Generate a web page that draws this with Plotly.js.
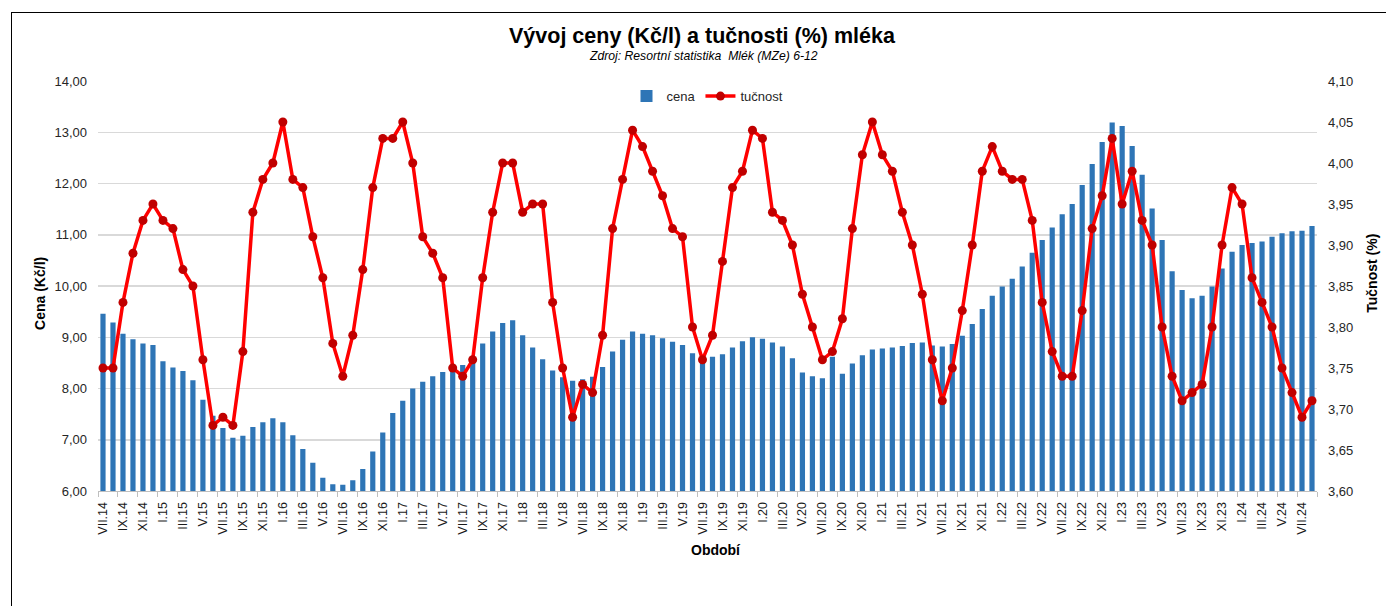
<!DOCTYPE html>
<html>
<head>
<meta charset="utf-8">
<script src="https://cdn.plot.ly/plotly-3.0.1.min.js"></script>
<style>
  html, body { margin: 0; padding: 0; overflow: hidden; background: #fff; }
  #chart { position: absolute; left: 0; top: 0; width: 1386px; height: 606px; }
  #frame { position: absolute; left: 11px; top: 12px; width: 1500px; height: 800px;
           border-top: 1.5px solid #000; border-left: 1.5px solid #000; pointer-events: none; }
</style>
</head>
<body>
<div id="chart"></div>
<div id="frame"></div>
<script>
// Period labels (monthly, VII.14 – VIII.24)
const periods = [
  "VII.14","VIII.14","IX.14","X.14","XI.14","XII.14",
  "I.15","II.15","III.15","IV.15","V.15","VI.15","VII.15","VIII.15","IX.15","X.15","XI.15","XII.15",
  "I.16","II.16","III.16","IV.16","V.16","VI.16","VII.16","VIII.16","IX.16","X.16","XI.16","XII.16",
  "I.17","II.17","III.17","IV.17","V.17","VI.17","VII.17","VIII.17","IX.17","X.17","XI.17","XII.17",
  "I.18","II.18","III.18","IV.18","V.18","VI.18","VII.18","VIII.18","IX.18","X.18","XI.18","XII.18",
  "I.19","II.19","III.19","IV.19","V.19","VI.19","VII.19","VIII.19","IX.19","X.19","XI.19","XII.19",
  "I.20","II.20","III.20","IV.20","V.20","VI.20","VII.20","VIII.20","IX.20","X.20","XI.20","XII.20",
  "I.21","II.21","III.21","IV.21","V.21","VI.21","VII.21","VIII.21","IX.21","X.21","XI.21","XII.21",
  "I.22","II.22","III.22","IV.22","V.22","VI.22","VII.22","VIII.22","IX.22","X.22","XI.22","XII.22",
  "I.23","II.23","III.23","IV.23","V.23","VI.23","VII.23","VIII.23","IX.23","X.23","XI.23","XII.23",
  "I.24","II.24","III.24","IV.24","V.24","VI.24","VII.24","VIII.24"
];

// cena (Kč/l)
const cena = [
  9.46, 9.29, 9.07, 8.96, 8.88, 8.85, 8.53, 8.41, 8.34, 8.16, 7.78, 7.47, 7.23, 7.04, 7.08, 7.25, 7.34, 7.42, 7.34, 7.09,
  6.82, 6.55, 6.26, 6.13, 6.12, 6.21, 6.43, 6.77, 7.14, 7.52, 7.76, 8.00, 8.13, 8.24, 8.32, 8.40, 8.46, 8.60, 8.88, 9.11,
  9.28, 9.33, 9.04, 8.80, 8.57, 8.35, 8.22, 8.15, 8.18, 8.23, 8.42, 8.72, 8.95, 9.11, 9.07, 9.04, 8.98, 8.91, 8.85, 8.69,
  8.60, 8.62, 8.67, 8.80, 8.92, 9.00, 8.97, 8.90, 8.82, 8.59, 8.31, 8.24, 8.20, 8.62, 8.29, 8.49, 8.65, 8.76, 8.78, 8.80,
  8.83, 8.89, 8.90, 8.84, 8.82, 8.87, 9.03, 9.26, 9.55, 9.81, 9.99, 10.14, 10.38, 10.65, 10.90, 11.14, 11.40, 11.60, 11.97, 12.38,
  12.81, 13.19, 13.12, 12.73, 12.17, 11.51, 10.90, 10.29, 9.92, 9.76, 9.81, 9.99, 10.34, 10.67, 10.80, 10.84, 10.87, 10.96, 11.03, 11.07, 11.08, 11.17
];

// tučnost (%)
const tucnost = [
  3.75, 3.75, 3.83, 3.89, 3.93, 3.95, 3.93, 3.92, 3.87, 3.85, 3.76, 3.68, 3.69, 3.68, 3.77, 3.94, 3.98, 4.00, 4.05, 3.98,
  3.97, 3.91, 3.86, 3.78, 3.74, 3.79, 3.87, 3.97, 4.03, 4.03, 4.05, 4.00, 3.91, 3.89, 3.86, 3.75, 3.74, 3.76, 3.86, 3.94,
  4.00, 4.00, 3.94, 3.95, 3.95, 3.83, 3.75, 3.69, 3.73, 3.72, 3.79, 3.92, 3.98, 4.04, 4.02, 3.99, 3.96, 3.92, 3.91, 3.80,
  3.76, 3.79, 3.88, 3.97, 3.99, 4.04, 4.03, 3.94, 3.93, 3.90, 3.84, 3.80, 3.76, 3.77, 3.81, 3.92, 4.01, 4.05, 4.01, 3.99,
  3.94, 3.90, 3.84, 3.76, 3.71, 3.75, 3.82, 3.90, 3.99, 4.02, 3.99, 3.98, 3.98, 3.93, 3.83, 3.77, 3.74, 3.74, 3.82, 3.92,
  3.96, 4.03, 3.95, 3.99, 3.93, 3.90, 3.80, 3.74, 3.71, 3.72, 3.73, 3.80, 3.90, 3.97, 3.95, 3.86, 3.83, 3.80, 3.75, 3.72, 3.69, 3.71
];

const FONT = "Liberation Sans, Arial, sans-serif";

const traces = [
  {
    type: "bar", name: "cena", x: periods, y: cena,
    marker: { color: "#2E75B6" }, yaxis: "y",
    hoverinfo: "x+y"
  },
  {
    type: "scatter", mode: "lines+markers", name: "tučnost", x: periods, y: tucnost,
    line: { color: "#FF0000", width: 3.5 },
    marker: { color: "#C00000", size: 9 },
    yaxis: "y2", hoverinfo: "x+y"
  }
];

const layout = {
  width: 1386, height: 606,
  margin: { l: 98, r: 69, t: 81, b: 115, pad: 0 },
  paper_bgcolor: "#fff", plot_bgcolor: "#fff",
  separators: ",.",
  font: { family: FONT, size: 13, color: "#262626" },
  bargap: 0.48,
  showlegend: true,
  legend: {
    orientation: "h", x: 0.5, xanchor: "center", y: 0.963, yanchor: "middle",
    font: { family: FONT, size: 13, color: "#262626" }, bgcolor: "rgba(0,0,0,0)",
    itemwidth: 30, tracegroupgap: 0
  },
  xaxis: {
    type: "category", range: [-0.5, 121.5],
    tickmode: "linear", tick0: 0, dtick: 2,
    tickson: "boundaries",
    ticks: "outside", ticklen: 5, tickcolor: "#BFBFBF", tickwidth: 1,
    showline: true, linecolor: "#BFBFBF", linewidth: 1,
    showgrid: false, tickangle: -90,
    ticklabelstandoff: 5,
    tickfont: { family: FONT, size: 12.5, color: "#1a1a1a" },
    automargin: false, fixedrange: true
  },
  yaxis: {
    range: [6, 14], dtick: 1, tick0: 6, tickformat: ".2f",
    showgrid: true, gridcolor: "#D9D9D9", gridwidth: 1.5,
    zeroline: false, showline: false, ticks: "",
    ticklabelstandoff: 10,
    tickfont: { family: FONT, size: 13, color: "#262626" },
    automargin: false, fixedrange: true
  },
  yaxis2: {
    overlaying: "y", side: "right",
    range: [3.60, 4.10], dtick: 0.05, tick0: 3.60, tickformat: ".2f",
    showgrid: false, zeroline: false, showline: false, ticks: "",
    ticklabelstandoff: 10,
    tickfont: { family: FONT, size: 13, color: "#262626" },
    automargin: false, fixedrange: true
  },
  annotations: [
    { text: "<b>Vývoj ceny (Kč/l) a tučnosti (%) mléka</b>", xref: "paper", yref: "paper",
      x: 0.496, y: 1.11, xanchor: "center", yanchor: "middle", showarrow: false,
      font: { family: FONT, size: 21.5, color: "#000" } },
    { text: "<i>Zdroj: Resortní statistika  Mlék (MZe) 6-12</i>", xref: "paper", yref: "paper",
      x: 0.497, y: 1.061, xanchor: "center", yanchor: "middle", showarrow: false,
      font: { family: FONT, size: 12.2, color: "#000" } },
    { text: "<b>Cena (Kč/l)</b>", xref: "paper", yref: "paper",
      x: -0.0476, y: 0.483, xanchor: "center", yanchor: "middle", textangle: -90, showarrow: false,
      font: { family: FONT, size: 14, color: "#000" } },
    { text: "<b>Tučnost (%)</b>", xref: "paper", yref: "paper",
      x: 1.045, y: 0.532, xanchor: "center", yanchor: "middle", textangle: -90, showarrow: false,
      font: { family: FONT, size: 14, color: "#000" } },
    { text: "<b>Období</b>", xref: "paper", yref: "paper",
      x: 0.507, y: -0.144, xanchor: "center", yanchor: "middle", showarrow: false,
      font: { family: FONT, size: 14, color: "#000" } }
  ]
};

Plotly.newPlot("chart", traces, layout, { displayModeBar: false, staticPlot: true });
</script>
</body>
</html>
